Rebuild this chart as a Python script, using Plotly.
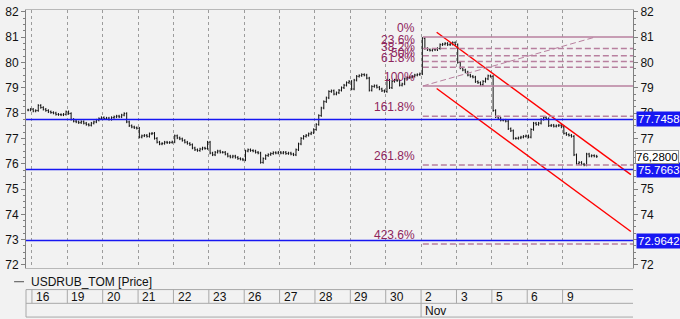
import plotly.graph_objects as go

# ---------------- data ----------------
day_labels = ["16", "19", "20", "21", "22", "23", "26", "27", "28", "29", "30",
              "2", "3", "5", "6", "9"]
month_label = "Nov"
month_start_day = 11          # index of "2" (2 Nov)
bars_per_day = 14             # hourly bars

# hourly closes
oct15_tail = [78.12, 78.15]
oct16 = [78.08, 78.10, 78.30, 78.22, 78.15, 78.10, 78.05, 78.02, 78.00, 77.95, 77.94, 77.93, 77.95, 78.05]
oct19 = [77.98, 77.75, 77.68, 77.65, 77.62, 77.66, 77.60, 77.55, 77.52, 77.60, 77.65, 77.72, 77.78, 77.82]
oct20 = [77.78, 77.80, 77.75, 77.82, 77.85, 77.88, 77.85, 77.92, 77.98, 77.65, 77.50, 77.45, 77.42, 77.40]
oct21 = [77.05, 77.10, 77.12, 77.08, 77.18, 77.20, 77.00, 76.85, 76.78, 76.80, 76.85, 76.83, 76.84, 76.86]
oct22 = [77.10, 77.02, 76.98, 76.92, 76.85, 76.80, 76.75, 76.62, 76.55, 76.52, 76.58, 76.62, 76.60, 76.85]
oct23 = [76.42, 76.35, 76.45, 76.50, 76.45, 76.45, 76.38, 76.30, 76.26, 76.30, 76.25, 76.20, 76.18, 76.15]
oct26 = [76.50, 76.55, 76.52, 76.50, 76.45, 76.42, 76.05, 76.20, 76.32, 76.36, 76.40, 76.44, 76.42, 76.45]
oct27 = [76.42, 76.45, 76.40, 76.42, 76.38, 76.35, 76.55, 76.78, 77.00, 77.08, 77.12, 77.18, 77.22, 77.35]
oct28 = [77.55, 77.90, 78.20, 78.45, 78.60, 78.85, 78.88, 78.75, 78.80, 78.90, 79.00, 79.10, 79.20, 79.25]
oct29 = [78.95, 79.30, 79.45, 79.48, 79.52, 79.50, 79.38, 78.90, 79.05, 79.08, 79.02, 78.95, 78.88, 78.85]
oct30 = [79.30, 79.00, 79.25, 79.30, 79.28, 79.10, 79.15, 79.35, 79.40, 79.42, 79.45, 79.50, 79.52, 79.55]
nov02 = [80.95, 80.55, 80.50, 80.48, 80.52, 80.50, 80.55, 80.70, 80.72, 80.75, 80.70, 80.72, 80.78, 80.70]
nov03 = [80.00, 79.78, 79.70, 79.62, 79.50, 79.45, 79.42, 79.24, 79.20, 79.12, 79.25, 79.35, 79.47, 79.45]
nov05 = [78.10, 77.85, 77.80, 77.72, 77.72, 77.68, 77.38, 77.30, 77.00, 77.00, 77.02, 77.05, 77.08, 77.10]
nov06 = [77.05, 77.35, 77.60, 77.55, 77.60, 77.75, 77.82, 77.78, 77.50, 77.52, 77.48, 77.50, 77.52, 77.45]
nov09 = [77.20, 77.15, 77.12, 77.08, 76.35, 76.00, 76.05, 75.98, 75.95, 76.38, 76.30, 76.32, 76.30, 76.28]
wick = 0.05

# horizontal levels (blue) and their labels
levels = [77.7458, 75.7663, 72.9642]
level_texts = ["77.7458", "75.7663", "72.9642"]
last_price = 76.28
last_price_text = "76,2800"

# Fibonacci tool
fib_high = 81.00
fib_low = 79.07
fib_ratios = [0.0, 0.236, 0.382, 0.5, 0.618, 1.0, 1.618, 2.618, 4.236]
fib_texts = ["0%", "23.6%", "38.2%", "50%", "61.8%", "100%", "161.8%", "261.8%", "423.6%"]
fib_solid = [True, False, False, False, False, True, False, False, False]
fib_start_day = 11.05
fib_trend_end_day = 15.92

# red regression channel (day index, price)
channel_x = [11.44, 16.93]
channel_upper = [81.19, 75.57]
channel_lower = [78.97, 73.32]

# ---------------- build OHLC ----------------
days = [oct16, oct19, oct20, oct21, oct22, oct23, oct26, oct27, oct28, oct29,
        oct30, nov02, nov03, nov05, nov06, nov09]
closes = list(oct15_tail)
for d in days:
    closes += d
n_pre = len(oct15_tail)
xs = [(k - n_pre + 0.5) / bars_per_day for k in range(len(closes))]
opens = [closes[0]] + closes[:-1]
highs = [max(o, c) + wick for o, c in zip(opens, closes)]
lows = [min(o, c) - wick for o, c in zip(opens, closes)]

# ---------------- geometry helpers ----------------
W, H = 680, 319
ML, MR, MT, MB = 21, 47, 5, 51
PH = H - MT - MB
XR = [-0.168, 16.99]
YR = [71.88, 82.07]


def py(ypx):
    return (H - MB - ypx) / PH


def px(xpx):
    return (xpx - ML) / (W - ML - MR)


FONT = "Arial, Liberation Sans, sans-serif"
GRID = "#9C9C9C"
AX = "#808080"
FIBC = "#B8809F"
FIBT = "#8E255C"
BLUE = "#1717F2"

fig = go.Figure()
fig.add_trace(go.Ohlc(x=xs, open=opens, high=highs, low=lows, close=closes,
                      increasing=dict(line=dict(color="#111111", width=1)),
                      decreasing=dict(line=dict(color="#111111", width=1)),
                      tickwidth=0.35, showlegend=False, hoverinfo="skip"))
fig.add_trace(go.Scatter(x=channel_x, y=channel_upper, mode="lines",
                         line=dict(color="#FF0000", width=1.4), showlegend=False, hoverinfo="skip"))
fig.add_trace(go.Scatter(x=channel_x, y=channel_lower, mode="lines",
                         line=dict(color="#FF0000", width=1.4), showlegend=False, hoverinfo="skip"))
# carrier for the right axis
fig.add_trace(go.Scatter(x=[XR[0]], y=[YR[0]], yaxis="y2", mode="markers",
                         marker=dict(opacity=0), showlegend=False, hoverinfo="skip"))

shapes = []
annotations = []

# blue levels
for lv, tx in zip(levels, level_texts):
    shapes.append(dict(type="line", xref="paper", x0=0, x1=1, yref="y", y0=lv, y1=lv,
                       line=dict(color=BLUE, width=1.5), layer="above"))
    annotations.append(dict(xref="paper", x=1, xanchor="left", xshift=3, yref="y", y=lv,
                            yanchor="middle", text=tx, showarrow=False, bgcolor=BLUE,
                            borderpad=1, font=dict(color="white", size=11.5, family=FONT)))
annotations.append(dict(xref="paper", x=1, xanchor="left", xshift=2, yref="y", y=last_price,
                        yanchor="middle", text=last_price_text, showarrow=False, bgcolor="white",
                        bordercolor="#909090", borderwidth=1, borderpad=0,
                        font=dict(color="black", size=11.5, family=FONT)))

# fibonacci
span = fib_high - fib_low
for r, tx, solid in zip(fib_ratios, fib_texts, fib_solid):
    lv = fib_high - r * span
    shapes.append(dict(type="line", xref="x", x0=fib_start_day, x1=XR[1], yref="y", y0=lv, y1=lv,
                       line=dict(color=FIBC, width=1.5, dash="solid" if solid else "6px,3px"),
                       layer="above"))
    annotations.append(dict(xref="x", x=fib_start_day - 0.17, xanchor="right", yref="y", y=lv,
                            yanchor="bottom", yshift=0, text=tx, showarrow=False,
                            font=dict(color=FIBT, size=12, family=FONT)))
shapes.append(dict(type="line", xref="x", x0=fib_start_day, x1=fib_trend_end_day, yref="y",
                   y0=fib_low, y1=fib_high, line=dict(color=FIBC, width=1, dash="6px,3px"),
                   layer="above"))

# legend row
shapes.append(dict(type="line", xref="paper", x0=px(9), x1=px(19), yref="paper",
                   y0=py(282), y1=py(282), line=dict(color="#505050", width=1)))
annotations.append(dict(xref="paper", x=px(24), xanchor="left", yref="paper", y=py(282),
                        yanchor="middle", text="USDRUB_TOM [Price]", showarrow=False,
                        font=dict(color="#111111", size=12, family=FONT)))

# date box
BOX = "#A8A8A8"
for yy in (290, 304, 318):
    shapes.append(dict(type="line", xref="paper", x0=0, x1=1, yref="paper", y0=py(yy), y1=py(yy),
                       line=dict(color=BOX, width=1)))
shapes.append(dict(type="line", xref="paper", x0=0, x1=0, yref="paper", y0=py(290), y1=py(318),
                   line=dict(color=BOX, width=1)))
for i, lab in enumerate(day_labels):
    shapes.append(dict(type="line", xref="x", x0=i, x1=i, yref="paper", y0=py(290), y1=py(304),
                       line=dict(color=BOX, width=1)))
    annotations.append(dict(xref="x", x=i + 0.06, xanchor="left", yref="paper", y=py(297.5),
                            yanchor="middle", text=lab, showarrow=False,
                            font=dict(color="#111111", size=12, family=FONT)))
shapes.append(dict(type="line", xref="x", x0=month_start_day, x1=month_start_day, yref="paper",
                   y0=py(304), y1=py(318), line=dict(color=BOX, width=1)))
annotations.append(dict(xref="x", x=month_start_day + 0.06, xanchor="left", yref="paper",
                        y=py(311.5), yanchor="middle", text=month_label, showarrow=False,
                        font=dict(color="#111111", size=12, family=FONT)))

yticks = list(range(72, 83))
yaxis_common = dict(range=YR, tickvals=yticks, ticktext=[str(v) for v in yticks],
                    ticks="outside", ticklen=4, tickcolor=AX, showline=True, linecolor=AX,
                    showgrid=False, zeroline=False, fixedrange=True,
                    tickfont=dict(size=12, color="#111111", family=FONT),
                    minor=dict(dtick=0.25, tick0=72, ticks="outside", ticklen=2, tickcolor=AX))

fig.update_layout(
    width=W, height=H, margin=dict(l=ML, r=MR, t=MT, b=MB),
    paper_bgcolor="#F2F2F2", plot_bgcolor="#F2F2F2",
    showlegend=False,
    xaxis=dict(range=XR, tickvals=list(range(len(day_labels))), showticklabels=False, ticks="",
               showgrid=True, gridcolor=GRID, griddash="dot", gridwidth=1,
               showline=True, linecolor="#B8B8B8", mirror=True, zeroline=False,
               rangeslider=dict(visible=False), fixedrange=True),
    yaxis=dict(side="left", **yaxis_common),
    yaxis2=dict(side="right", overlaying="y", **yaxis_common),
    shapes=shapes, annotations=annotations,
)

fig.write_html("out.html")
